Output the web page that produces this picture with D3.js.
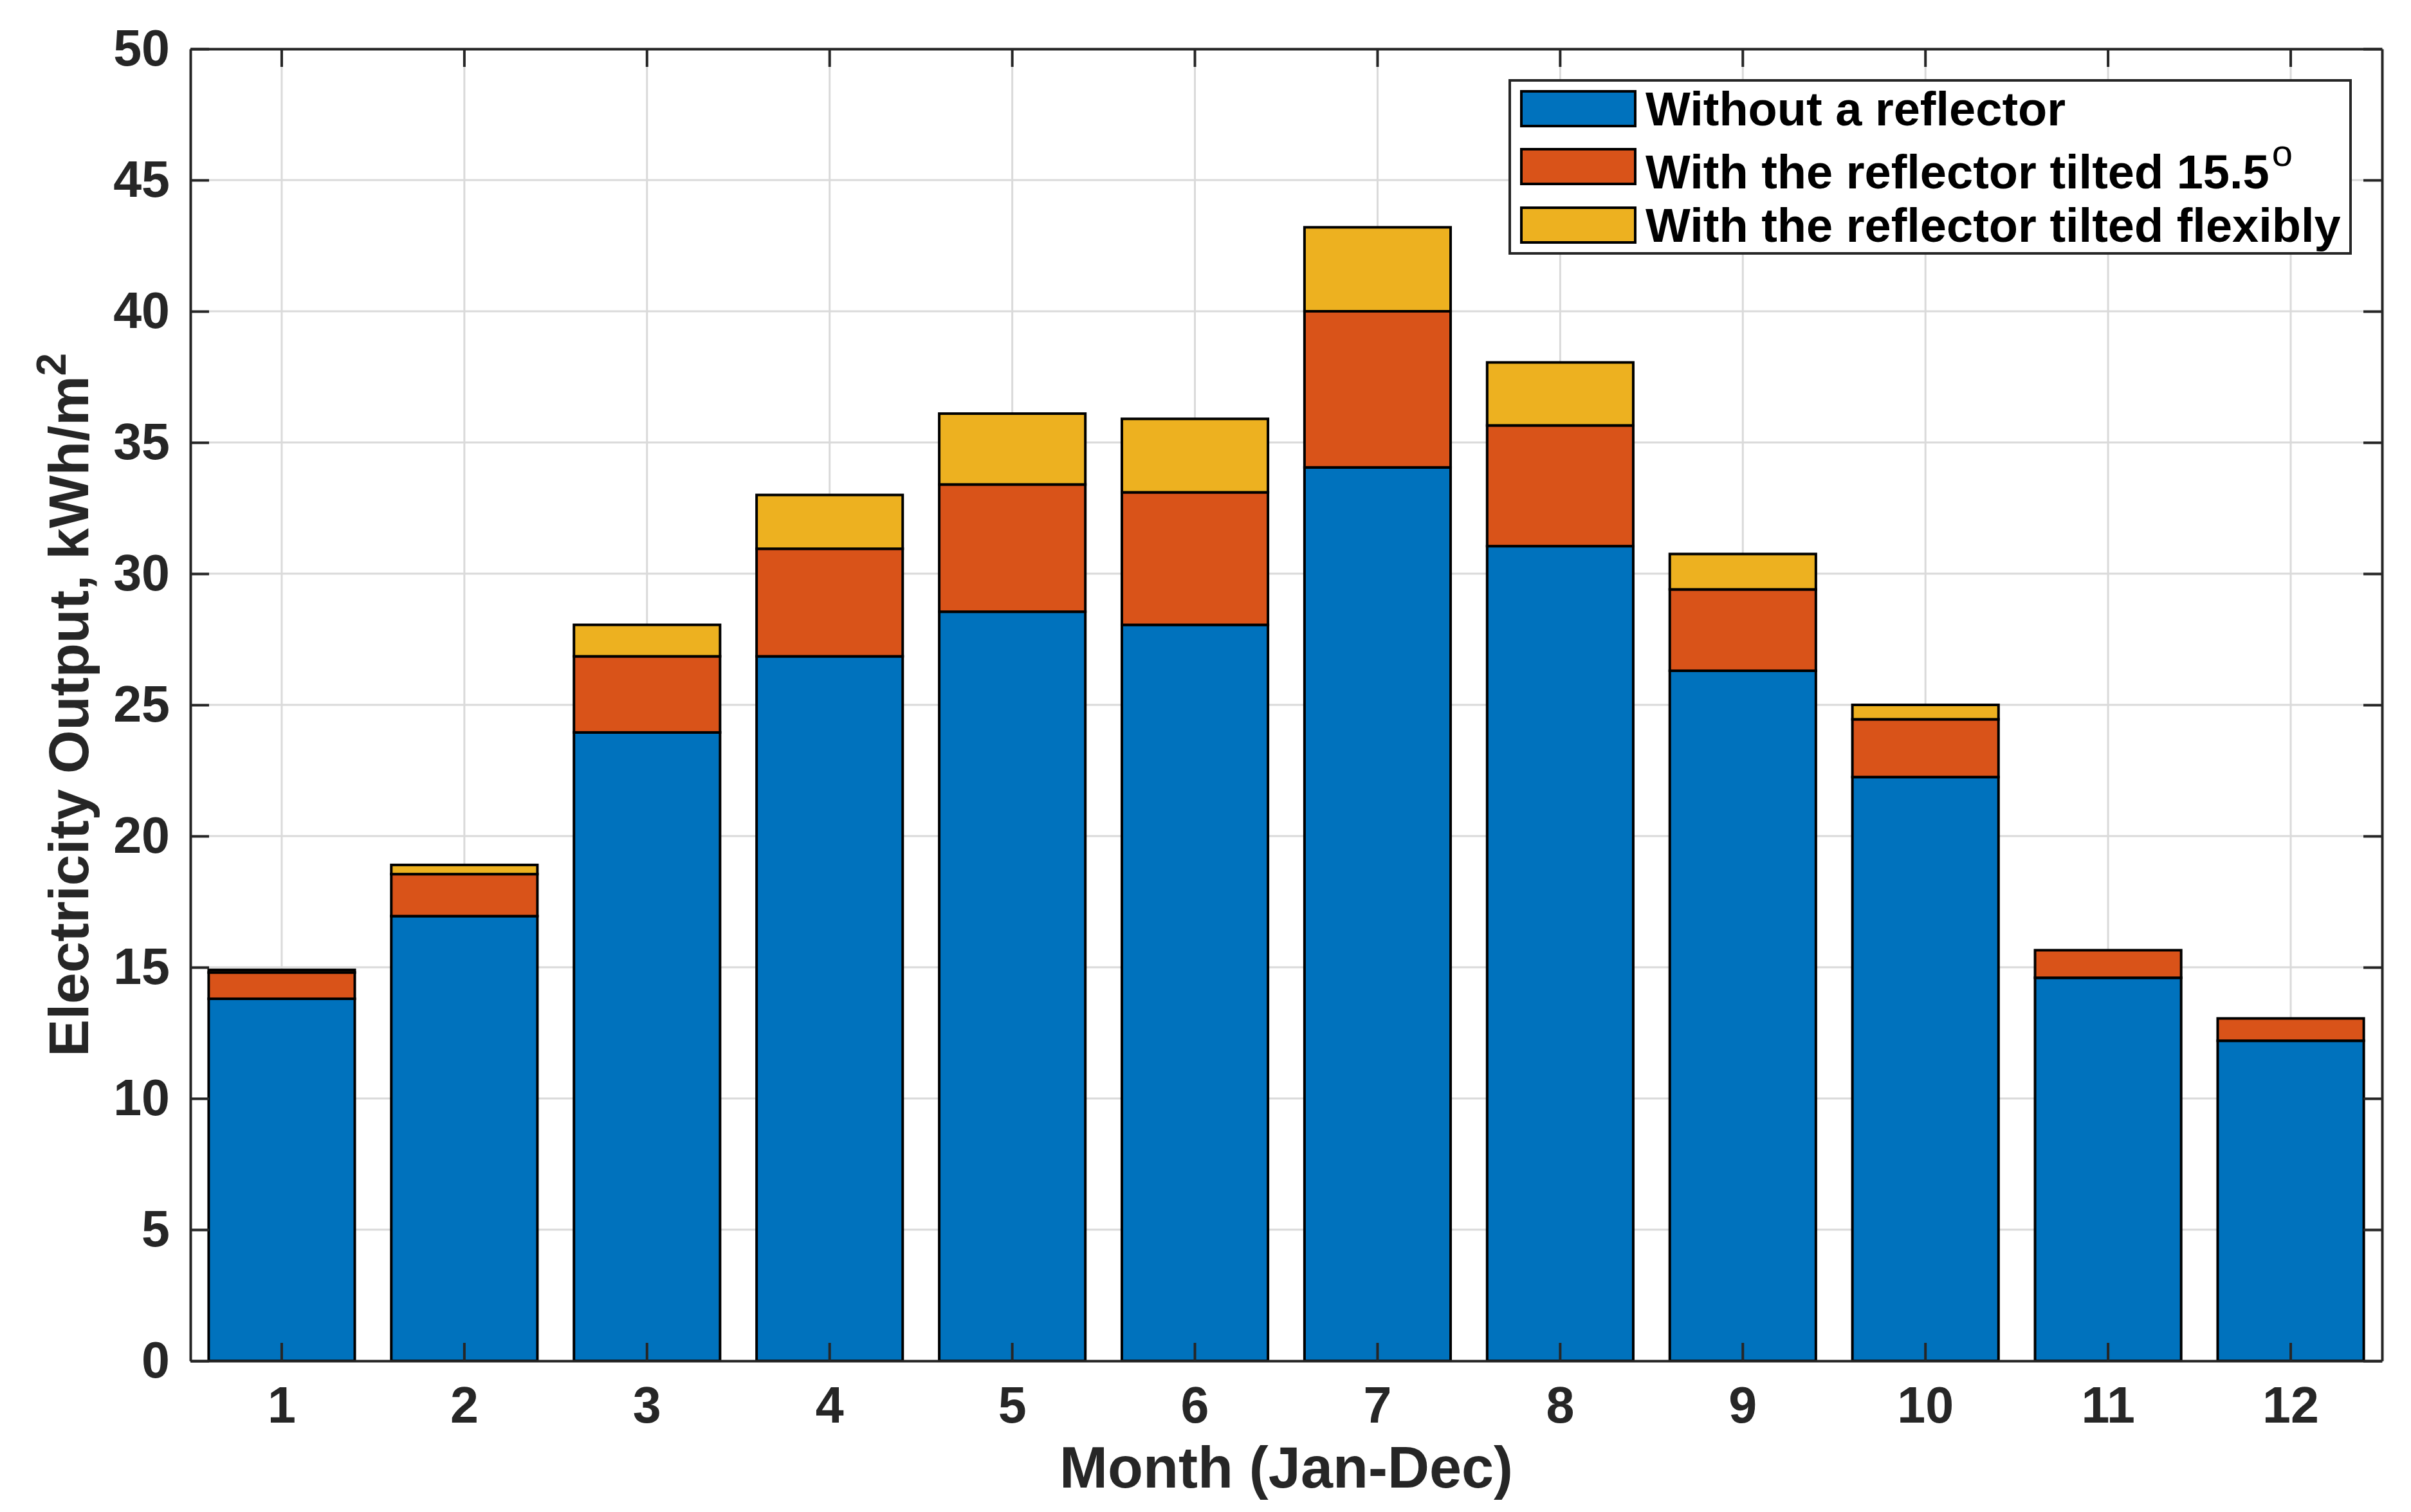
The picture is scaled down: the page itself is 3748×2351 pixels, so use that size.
<!DOCTYPE html>
<html lang="en">
	<head>
		<meta charset="utf-8">
		<title>Monthly Electricity Output</title>
		<script type="text/javascript" src="https://cdn.jsdelivr.net/npm/d3@7/dist/d3.min.js"></script>
		<style type="text/css">
			html, body {
				margin: 0;
				padding: 0;
				background-color: white;
			}
			text {
				font-family: "Liberation Sans", Arial, Helvetica, sans-serif;
				font-weight: bold;
			}
		</style>
	</head>
	<body>
		<script type="text/javascript">

			//Data (kWh/m2), stacked increments per month
			var months = [1, 2, 3, 4, 5, 6, 7, 8, 9, 10, 11, 12];
			var seriesNames = ["Without a reflector", "With the reflector tilted 15.5", "With the reflector tilted flexibly"];
			var withoutReflector = [13.8, 16.95, 23.95, 26.85, 28.55, 28.05, 34.05, 31.05, 26.3, 22.25, 14.6, 12.2];
			var tiltedGain = [1.0, 1.6, 2.9, 4.1, 4.85, 5.05, 5.95, 4.6, 3.1, 2.2, 1.05, 0.85];
			var flexibleGain = [0.1, 0.35, 1.2, 2.05, 2.7, 2.8, 3.2, 2.4, 1.35, 0.55, 0, 0];
			var yTicks = [0, 5, 10, 15, 20, 25, 30, 35, 40, 45, 50];
			var colors = ["#0072BD", "#D95319", "#EDB120"];

			//Width and height
			var w = 3748;
			var h = 2351;
			var plotLeft = 296, plotRight = 3703, plotTop = 76, plotBottom = 2116;

			var rows = months.map(function(m, i) {
				return { month: m, s0: withoutReflector[i], s1: tiltedGain[i], s2: flexibleGain[i] };
			});
			var stack = d3.stack().keys(["s0", "s1", "s2"]);
			var layers = stack(rows);

			var x = d3.scaleBand()
					  .domain(months)
					  .range([plotLeft, plotRight])
					  .paddingInner(0.2)
					  .paddingOuter(0.1);

			var y = d3.scaleLinear()
					  .domain([0, 50])
					  .range([plotBottom, plotTop]);

			//Create SVG element
			var svg = d3.select("body")
						.append("svg")
						.attr("width", w)
						.attr("height", h);

			//Grid lines
			svg.append("g")
			   .selectAll("line")
			   .data(yTicks)
			   .enter()
			   .append("line")
			   .attr("x1", plotLeft).attr("x2", plotRight)
			   .attr("y1", function(d) { return y(d); })
			   .attr("y2", function(d) { return y(d); })
			   .attr("stroke", "#dadada")
			   .attr("stroke-width", 3);

			svg.append("g")
			   .selectAll("line")
			   .data(months)
			   .enter()
			   .append("line")
			   .attr("x1", function(d) { return x(d) + x.bandwidth() / 2; })
			   .attr("x2", function(d) { return x(d) + x.bandwidth() / 2; })
			   .attr("y1", plotTop).attr("y2", plotBottom)
			   .attr("stroke", "#dadada")
			   .attr("stroke-width", 3);

			//Stacked bars
			svg.selectAll("g.layer")
			   .data(layers)
			   .enter()
			   .append("g")
			   .attr("class", "layer")
			   .attr("fill", function(d, i) { return colors[i]; })
			   .selectAll("rect")
			   .data(function(d) { return d; })
			   .enter()
			   .append("rect")
			   .attr("x", function(d) { return x(d.data.month); })
			   .attr("width", x.bandwidth())
			   .attr("y", function(d) { return y(d[1]); })
			   .attr("height", function(d) { return y(d[0]) - y(d[1]); })
			   .attr("stroke", "black")
			   .attr("stroke-width", 4);

			//Axes, ticks pointing inward on all four sides
			var axisColor = "#262626";
			function styleAxis(g) {
				g.selectAll("path.domain").attr("stroke", axisColor).attr("stroke-width", 4);
				g.selectAll(".tick line").attr("stroke", axisColor).attr("stroke-width", 4);
				g.selectAll(".tick text").attr("fill", axisColor).attr("font-size", "79px")
				 .style("font-family", "'Liberation Sans', Arial, Helvetica, sans-serif").style("font-weight", "bold");
			}

			svg.append("g")
			   .attr("transform", "translate(0," + plotBottom + ")")
			   .call(d3.axisBottom(x).tickSizeInner(-28).tickSizeOuter(0).tickPadding(40))
			   .call(styleAxis);

			svg.append("g")
			   .attr("transform", "translate(0," + plotTop + ")")
			   .call(d3.axisTop(x).tickSizeInner(-28).tickSizeOuter(0).tickFormat(""))
			   .call(styleAxis);

			svg.append("g")
			   .attr("transform", "translate(" + plotLeft + ",0)")
			   .call(d3.axisLeft(y).tickValues(yTicks).tickSizeInner(-29).tickSizeOuter(0).tickPadding(32))
			   .call(styleAxis);

			svg.append("g")
			   .attr("transform", "translate(" + plotRight + ",0)")
			   .call(d3.axisRight(y).tickValues(yTicks).tickSizeInner(-29).tickSizeOuter(0).tickFormat(""))
			   .call(styleAxis);

			//Axis labels
			svg.append("text")
			   .attr("x", (plotLeft + plotRight) / 2)
			   .attr("y", 2313)
			   .attr("text-anchor", "middle")
			   .attr("font-size", "90px")
			   .attr("fill", axisColor)
			   .text("Month (Jan-Dec)");

			var ylab = svg.append("text")
			   .attr("transform", "translate(137," + ((plotTop + plotBottom) / 2) + ") rotate(-90)")
			   .attr("text-anchor", "middle")
			   .attr("font-size", "87px")
			   .attr("fill", axisColor);
			ylab.append("tspan").text("Electricity Output, kWh/m");
			ylab.append("tspan").attr("dy", "-0.55em").attr("font-size", "64px").text("2");

			//Legend
			var legX = 2347, legY = 125, legW = 1307, legH = 269;
			var rowY = [169, 259, 350];
			var leg = svg.append("g");

			leg.append("rect")
			   .attr("x", legX).attr("y", legY)
			   .attr("width", legW).attr("height", legH)
			   .attr("fill", "white")
			   .attr("stroke", axisColor)
			   .attr("stroke-width", 4);

			leg.selectAll("rect.swatch")
			   .data(seriesNames)
			   .enter()
			   .append("rect")
			   .attr("class", "swatch")
			   .attr("x", 2365)
			   .attr("y", function(d, i) { return rowY[i] - 27; })
			   .attr("width", 177)
			   .attr("height", 54)
			   .attr("fill", function(d, i) { return colors[i]; })
			   .attr("stroke", "black")
			   .attr("stroke-width", 4);

			var legText = leg.selectAll("text.item")
			   .data(seriesNames)
			   .enter()
			   .append("text")
			   .attr("class", "item")
			   .attr("x", 2558)
			   .attr("y", function(d, i) { return rowY[i] + 26 + (i == 1 ? 8 : 0); })
			   .attr("font-size", "74px")
			   .attr("fill", "black")
			   .text(function(d) { return d; });

			//Degree sign as superscript o on the second entry
			d3.select(legText.nodes()[1])
			  .append("tspan")
			  .attr("dx", "4")
			  .attr("dy", "-0.6em")
			  .attr("font-size", "58px")
			  .style("font-weight", "normal")
			  .text("o");

		</script>
	</body>
</html>
